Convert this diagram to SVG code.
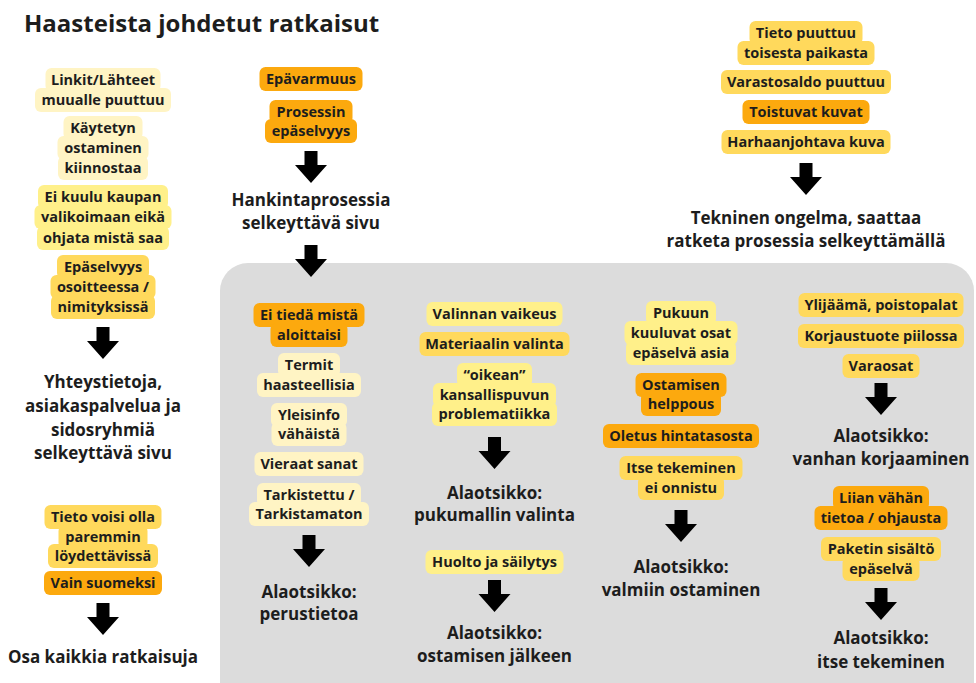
<svg xmlns="http://www.w3.org/2000/svg" xmlns:xlink="http://www.w3.org/1999/xlink" width="976" height="683" viewBox="0 0 976 683">
<style>
  text{font-family:"Open Sans","Liberation Sans",sans-serif;font-weight:700;fill:#1d1d1d;text-anchor:middle}
  .lb{font-size:14.5px}
  .hd{font-size:17px}
  .title{font-size:24px;text-anchor:start}
  .pale{fill:#FFF4C4}
  .light{fill:#FFF08A}
  .gold{fill:#FFD95C}
  .orange{fill:#FCA90E}
  .panel{fill:#DCDCDC}
  .arrow{fill:#000}
</style>
<defs>
  <polygon id="arr" class="arrow" points="-6.5,0 6.5,0 6.5,14 16,14 0,32 -16,14 -6.5,14"/>
</defs>
<rect width="976" height="683" fill="#fff"/>
<rect id="panel" class="panel" x="220" y="263" width="754" height="460" rx="28"/>
<text class="title" x="24" y="32">Haasteista johdetut ratkaisut</text>

<!-- Column 1 -->
<g id="n1"><rect class="pale" x="45.5" y="68" width="115" height="24" rx="6"/><rect class="pale" x="35" y="88" width="136" height="24" rx="6"/>
<text class="lb" x="103" y="85">Linkit/Lähteet</text><text class="lb" x="103" y="105">muualle puuttuu</text></g>
<g id="n2"><rect class="pale" x="63.5" y="116" width="79" height="24" rx="6"/><rect class="pale" x="57.5" y="136" width="91" height="24" rx="6"/><rect class="pale" x="58" y="156" width="90" height="24" rx="6"/>
<text class="lb" x="103" y="133">Käytetyn</text><text class="lb" x="103" y="153">ostaminen</text><text class="lb" x="103" y="173">kiinnostaa</text></g>
<g id="n3"><rect class="light" x="38" y="185" width="130" height="24" rx="6"/><rect class="light" x="34.5" y="205" width="137" height="24" rx="6"/><rect class="light" x="37" y="226" width="132" height="24" rx="6"/>
<text class="lb" x="103" y="202">Ei kuulu kaupan</text><text class="lb" x="103" y="222">valikoimaan eikä</text><text class="lb" x="103" y="243">ohjata mistä saa</text></g>
<g id="n4"><rect class="gold" x="57" y="255" width="92" height="24" rx="6"/><rect class="gold" x="50.5" y="275" width="105" height="24" rx="6"/><rect class="gold" x="51" y="295" width="104" height="24" rx="6"/>
<text class="lb" x="103" y="272">Epäselvyys</text><text class="lb" x="103" y="292">osoitteessa /</text><text class="lb" x="103" y="312">nimityksissä</text></g>
<g id="h1"><text class="hd" x="103" y="388">Yhteystietoja,</text><text class="hd" x="103" y="412">asiakaspalvelua ja</text><text class="hd" x="103" y="436">sidosryhmiä</text><text class="hd" x="103" y="459">selkeyttävä sivu</text></g>
<g id="n5"><rect class="gold" x="44.5" y="505" width="117" height="24" rx="6"/><rect class="gold" x="58.5" y="525" width="89" height="24" rx="6"/><rect class="gold" x="48" y="544" width="110" height="24" rx="6"/>
<text class="lb" x="103" y="522">Tieto voisi olla</text><text class="lb" x="103" y="542">paremmin</text><text class="lb" x="103" y="561">löydettävissä</text></g>
<g id="n6"><rect class="orange" x="44" y="571" width="118" height="24" rx="6"/><text class="lb" x="103" y="588">Vain suomeksi</text></g>
<g id="h2"><text class="hd" x="103" y="663">Osa kaikkia ratkaisuja</text></g>

<!-- Column 2 -->
<g id="n7"><rect class="orange" x="259.5" y="67" width="103" height="24" rx="6"/><text class="lb" x="311" y="84">Epävarmuus</text></g>
<g id="n8"><rect class="orange" x="269.5" y="100" width="83" height="24" rx="6"/><rect class="orange" x="265" y="119" width="92" height="24" rx="6"/>
<text class="lb" x="311" y="117">Prosessin</text><text class="lb" x="311" y="136">epäselvyys</text></g>
<g id="h3"><text class="hd" x="311" y="206">Hankintaprosessia</text><text class="hd" x="311" y="229">selkeyttävä sivu</text></g>

<!-- Top right -->
<g id="n9"><rect class="gold" x="749.5" y="21" width="113" height="24" rx="6"/><rect class="gold" x="737.5" y="41" width="137" height="24" rx="6"/>
<text class="lb" x="806" y="38">Tieto puuttuu</text><text class="lb" x="806" y="58">toisesta paikasta</text></g>
<g id="n10"><rect class="gold" x="721" y="70" width="170" height="24" rx="6"/><text class="lb" x="806" y="87">Varastosaldo puuttuu</text></g>
<g id="n11"><rect class="orange" x="742.5" y="100" width="127" height="24" rx="6"/><text class="lb" x="806" y="117">Toistuvat kuvat</text></g>
<g id="n12"><rect class="gold" x="721.5" y="130" width="169" height="24" rx="6"/><text class="lb" x="806" y="147">Harhaanjohtava kuva</text></g>
<g id="h4"><text class="hd" x="806" y="224">Tekninen ongelma, saattaa</text><text class="hd" x="806" y="247">ratketa prosessia selkeyttämällä</text></g>

<!-- Panel A -->
<g id="n13"><rect class="orange" x="253.5" y="303" width="111" height="24" rx="6"/><rect class="orange" x="270.5" y="323" width="77" height="24" rx="6"/>
<text class="lb" x="309" y="320">Ei tiedä mistä</text><text class="lb" x="309" y="340">aloittaisi</text></g>
<g id="n14"><rect class="pale" x="278" y="353" width="62" height="24" rx="6"/><rect class="pale" x="257" y="373" width="104" height="24" rx="6"/>
<text class="lb" x="309" y="370">Termit</text><text class="lb" x="309" y="390">haasteellisia</text></g>
<g id="n15"><rect class="pale" x="271" y="403" width="76" height="24" rx="6"/><rect class="pale" x="271.5" y="422" width="75" height="24" rx="6"/>
<text class="lb" x="309" y="420">Yleisinfo</text><text class="lb" x="309" y="439">vähäistä</text></g>
<g id="n16"><rect class="pale" x="254.5" y="452" width="109" height="24" rx="6"/><text class="lb" x="309" y="469">Vieraat sanat</text></g>
<g id="n17"><rect class="pale" x="257" y="483" width="104" height="24" rx="6"/><rect class="pale" x="249" y="502" width="120" height="24" rx="6"/>
<text class="lb" x="309" y="500">Tarkistettu /</text><text class="lb" x="309" y="519">Tarkistamaton</text></g>
<g id="h5"><text class="hd" x="309" y="598">Alaotsikko:</text><text class="hd" x="309" y="620">perustietoa</text></g>

<!-- Panel B -->
<g id="n18"><rect class="light" x="426.5" y="302" width="136" height="24" rx="6"/><text class="lb" x="494.5" y="319">Valinnan vaikeus</text></g>
<g id="n19"><rect class="gold" x="419.5" y="332" width="150" height="24" rx="6"/><text class="lb" x="494.5" y="349">Materiaalin valinta</text></g>
<g id="n20"><rect class="light" x="457" y="363" width="75" height="24" rx="6"/><rect class="light" x="433" y="383" width="123" height="24" rx="6"/><rect class="light" x="432" y="402" width="125" height="24" rx="6"/>
<text class="lb" x="494.5" y="380">“oikean”</text><text class="lb" x="494.5" y="400">kansallispuvun</text><text class="lb" x="494.5" y="419">problematiikka</text></g>
<g id="h6"><text class="hd" x="494.5" y="499">Alaotsikko:</text><text class="hd" x="494.5" y="521">pukumallin valinta</text></g>
<g id="n21"><rect class="light" x="425.5" y="550" width="138" height="24" rx="6"/><text class="lb" x="494.5" y="567">Huolto ja säilytys</text></g>
<g id="h7"><text class="hd" x="494.5" y="639">Alaotsikko:</text><text class="hd" x="494.5" y="662">ostamisen jälkeen</text></g>

<!-- Panel C -->
<g id="n22"><rect class="light" x="646" y="301" width="70" height="24" rx="6"/><rect class="light" x="624.5" y="321" width="113" height="24" rx="6"/><rect class="light" x="626" y="341" width="110" height="24" rx="6"/>
<text class="lb" x="681" y="318">Pukuun</text><text class="lb" x="681" y="338">kuuluvat osat</text><text class="lb" x="681" y="358">epäselvä asia</text></g>
<g id="n23"><rect class="orange" x="635.5" y="373" width="91" height="24" rx="6"/><rect class="orange" x="641" y="392" width="80" height="24" rx="6"/>
<text class="lb" x="681" y="390">Ostamisen</text><text class="lb" x="681" y="409">helppous</text></g>
<g id="n24"><rect class="orange" x="603" y="424" width="156" height="24" rx="6"/><text class="lb" x="681" y="441">Oletus hintatasosta</text></g>
<g id="n25"><rect class="gold" x="619.5" y="456" width="123" height="24" rx="6"/><rect class="gold" x="638" y="476" width="86" height="24" rx="6"/>
<text class="lb" x="681" y="473">Itse tekeminen</text><text class="lb" x="681" y="493">ei onnistu</text></g>
<g id="h8"><text class="hd" x="681" y="573">Alaotsikko:</text><text class="hd" x="681" y="596">valmiin ostaminen</text></g>

<!-- Panel D -->
<g id="n26"><rect class="gold" x="798.5" y="293" width="165" height="24" rx="6"/><text class="lb" x="881" y="310">Ylijäämä, poistopalat</text></g>
<g id="n27"><rect class="gold" x="798" y="324" width="166" height="24" rx="6"/><text class="lb" x="881" y="341">Korjaustuote piilossa</text></g>
<g id="n28"><rect class="gold" x="842.5" y="354" width="77" height="24" rx="6"/><text class="lb" x="881" y="371">Varaosat</text></g>
<g id="h9"><text class="hd" x="881" y="442">Alaotsikko:</text><text class="hd" x="881" y="465">vanhan korjaaminen</text></g>
<g id="n29"><rect class="orange" x="833" y="486" width="96" height="24" rx="6"/><rect class="orange" x="814.5" y="506" width="133" height="24" rx="6"/>
<text class="lb" x="881" y="503">Liian vähän</text><text class="lb" x="881" y="523">tietoa / ohjausta</text></g>
<g id="n30"><rect class="gold" x="821" y="537" width="120" height="24" rx="6"/><rect class="gold" x="842.5" y="557" width="77" height="24" rx="6"/>
<text class="lb" x="881" y="554">Paketin sisältö</text><text class="lb" x="881" y="574">epäselvä</text></g>
<g id="h10"><text class="hd" x="881" y="644">Alaotsikko:</text><text class="hd" x="881" y="668">itse tekeminen</text></g>

<!-- Connectors -->
<g id="connectors">
  <use xlink:href="#arr" x="103" y="327"/>
  <use xlink:href="#arr" x="103" y="603"/>
  <use xlink:href="#arr" x="311" y="151"/>
  <use xlink:href="#arr" x="311" y="245"/>
  <use xlink:href="#arr" x="806" y="163"/>
  <use xlink:href="#arr" x="309" y="535"/>
  <use xlink:href="#arr" x="494.5" y="437"/>
  <use xlink:href="#arr" x="494.5" y="580"/>
  <use xlink:href="#arr" x="681" y="510"/>
  <use xlink:href="#arr" x="881" y="383"/>
  <use xlink:href="#arr" x="881" y="588"/>
</g>
</svg>
